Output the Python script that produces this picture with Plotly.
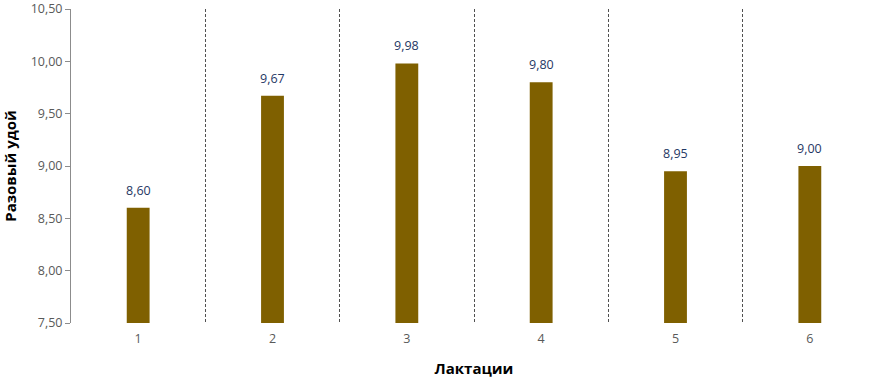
import plotly.graph_objects as go

categories = ["1", "2", "3", "4", "5", "6"]
values = [8.60, 9.67, 9.98, 9.80, 8.95, 9.00]
y_ticks = [7.5, 8.0, 8.5, 9.0, 9.5, 10.0, 10.5]
y_tick_labels = ["7,50", "8,00", "8,50", "9,00", "9,50", "10,00", "10,50"]

font_family = "Open Sans, Noto Sans, sans-serif"

fig = go.Figure(
    go.Bar(
        x=categories,
        y=values,
        width=0.17,
        marker=dict(color="#7F6000", line=dict(width=0)),
        cliponaxis=False,
    )
)

for i, v in enumerate(values):
    fig.add_annotation(
        x=i, y=v, xref="x", yref="y", text=f"{v:.2f}".replace(".", ","),
        showarrow=False, yanchor="bottom", yshift=7,
        font=dict(color="#1F3864", size=12.5, family=font_family),
    )

fig.update_layout(
    width=878,
    height=378,
    margin=dict(l=71, r=1, t=9, b=55, autoexpand=False),
    plot_bgcolor="white",
    paper_bgcolor="white",
    showlegend=False,
    font=dict(family=font_family, color="#595959", size=12),
)

fig.update_xaxes(
    type="category",
    range=[-0.5, 5.5],
    tickson="boundaries",
    showgrid=True,
    gridcolor="#505050",
    griddash="3px,2px",
    gridwidth=1,
    ticks="",
    showline=False,
    automargin=False,
    ticklabelstandoff=6,
    tickfont=dict(size=12.5, color="#595959"),
    title=dict(text="<b>Лактации</b>", font=dict(size=15, color="#000000"), standoff=22),
)

fig.update_yaxes(
    range=[7.5, 10.5],
    tickvals=y_ticks,
    ticktext=y_tick_labels,
    ticklabeloverflow="allow",
    showgrid=False,
    zeroline=False,
    showline=True,
    linecolor="#8C8C8C",
    ticks="outside",
    ticklen=5,
    tickcolor="#8C8C8C",
    automargin=False,
    tickfont=dict(size=12.5, color="#595959"),
    title=dict(text="<b>Разовый удой</b>", font=dict(size=15, color="#000000"), standoff=12),
)

fig.write_html(
    "out.html",
    config={"displayModeBar": False},
    post_script="document.body.style.margin='0';",
)
